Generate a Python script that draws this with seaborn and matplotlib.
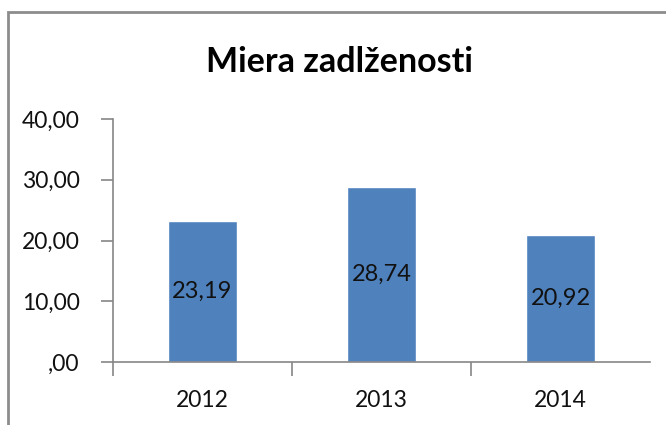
import numpy as np
import pandas as pd
import matplotlib
matplotlib.use("Agg")
import matplotlib.pyplot as plt
import seaborn as sns

years = ["2012", "2013", "2014"]
values = [23.19, 28.74, 20.92]
yticks = [0, 10, 20, 30, 40]

df = pd.DataFrame({"rok": years, "miera": values})

sns.set_style("white")
plt.rcParams['font.family'] = ['Lato', 'DejaVu Sans']

fig = plt.figure(figsize=(6.66, 4.25), dpi=100)
ax = fig.add_axes([113 / 666, 1 - 362 / 425, (650 - 113) / 666, (362 - 119) / 425])

sns.barplot(data=df, x="rok", y="miera", color="#4F81BD", width=0.39,
            saturation=1, ax=ax)

for i, v in enumerate(values):
    ax.text(i, v / 2, f"{v:.2f}".replace(".", ","), ha="center", va="center",
            fontsize=17, color="#111111")

ax.set_ylim(0, 40)
ax.set_xlim(-0.5, 2.5)
ax.set_yticks(yticks)
ax.set_yticklabels([",00" if t == 0 else f"{t:.2f}".replace(".", ",") for t in yticks])
ax.set_xlabel("")
ax.set_ylabel("")

for s in ["top", "right"]:
    ax.spines[s].set_visible(False)
for s in ["left", "bottom"]:
    ax.spines[s].set_color("#868686")
    ax.spines[s].set_linewidth(1.2)

ax.tick_params(axis="y", which="major", direction="out", length=9, color="#868686",
               width=1.2, labelsize=16.5, labelcolor="#111111", pad=15, left=True)
ax.set_xticks([-0.5, 0.5, 1.5], minor=True)
ax.tick_params(axis="x", which="major", length=0, labelsize=16.5, labelcolor="#111111", pad=20)
ax.tick_params(axis="x", which="minor", length=10, width=1.2, color="#868686", bottom=True)

fig.text(340 / 666, 1 - 62 / 425, "Miera zadlženosti", ha="center", va="center",
         fontsize=24.5, fontweight="bold", color="#000000")

border = plt.Rectangle((8 / 666, -0.1), 1.2, 1 - 12 / 425 + 0.1, transform=fig.transFigure,
                       fill=False, edgecolor="#8c8c8c", linewidth=2)
fig.patches.append(border)

fig.savefig("out.png", dpi=100)
